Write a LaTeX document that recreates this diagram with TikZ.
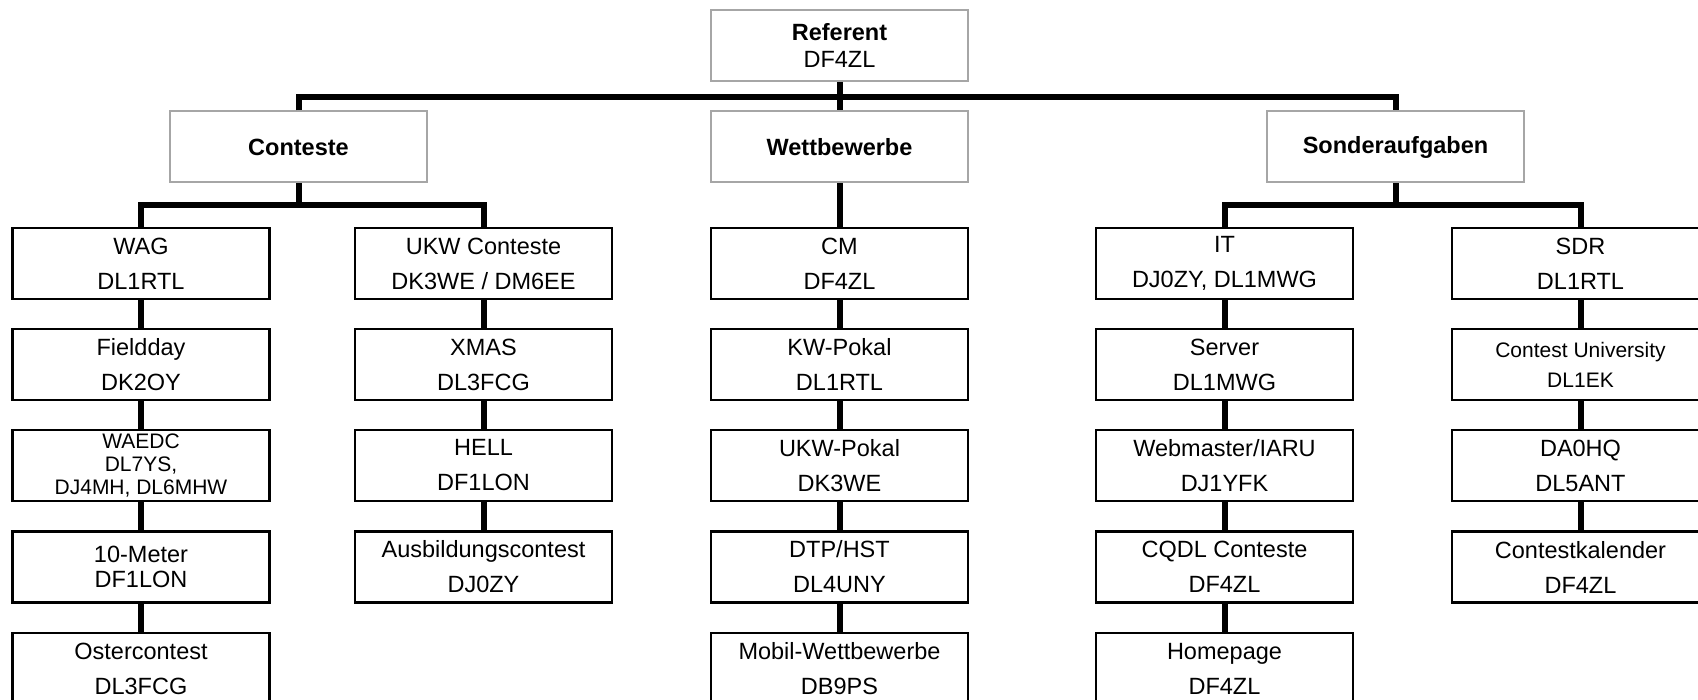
\documentclass[tikz,border=0pt]{standalone}
\usepackage{fontspec}
\setmainfont{Liberation Sans}
\definecolor{boxgray}{HTML}{A6A6A6}
\begin{document}
\begin{tikzpicture}[x=1pt,y=-1pt,
  box/.style={draw=black, line width=2.2pt, fill=white, minimum width=257pt, minimum height=71pt,
    inner sep=0pt, align=center, font=\fontsize{23.5}{35}\selectfont},
  tightbox/.style={box, font=\fontsize{23.5}{25}\selectfont},
  smallbox/.style={box, font=\fontsize{21}{23}\selectfont},
  cubox/.style={box, font=\fontsize{21}{30}\selectfont},
  headbox/.style={box, draw=boxgray, line width=2pt, font=\fontsize{23.5}{27}\selectfont\bfseries},
  refbox/.style={box, draw=boxgray, line width=2pt, font=\fontsize{23.5}{27}\selectfont},
  conn/.style={line width=6pt, line join=miter, draw=black}]
\useasboundingbox (0,0) rectangle (1698,700);
\clip (0,0) rectangle (1698,700);

% bar levels
\coordinate (topbar) at (0,97);
\coordinate (subbar) at (0,205);

% top levels
\node[refbox] (ref) at (839.5,45.5) {\textbf{Referent}\\DF4ZL};
\node[headbox] (con) at (298.5,147) {Conteste};
\node[headbox] (wet) at (839.5,147) {Wettbewerbe};
\node[headbox] (son) at (1395.5,147) {Sonderaufgaben};

% column A
\node[box] (a1) at (141,263.5) {WAG\\DL1RTL};
\node[box] (a2) at (141,364.5) {Fieldday\\DK2OY};
\node[smallbox] (a3) at (141,465.5) {WAEDC\\DL7YS,\\DJ4MH, DL6MHW};
\node[tightbox] (a4) at (141,567) {10-Meter\\DF1LON};
\node[box] (a5) at (141,668.5) {Ostercontest\\DL3FCG};

% column B
\node[box] (b1) at (483.5,263.5) {UKW Conteste\\DK3WE / DM6EE};
\node[box] (b2) at (483.5,364.5) {XMAS\\DL3FCG};
\node[box] (b3) at (483.5,465.5) {HELL\\DF1LON};
\node[box] (b4) at (483.5,567) {Ausbildungscontest\\DJ0ZY};

% column C
\node[box] (c1) at (839.5,263.5) {CM\\DF4ZL};
\node[box] (c2) at (839.5,364.5) {KW-Pokal\\DL1RTL};
\node[box] (c3) at (839.5,465.5) {UKW-Pokal\\DK3WE};
\node[box] (c4) at (839.5,567) {DTP/HST\\DL4UNY};
\node[box] (c5) at (839.5,668.5) {Mobil-Wettbewerbe\\DB9PS};

% column D
\node[box] (d1) at (1224.5,263.5) {IT\\DJ0ZY, DL1MWG};
\node[box] (d2) at (1224.5,364.5) {Server\\DL1MWG};
\node[box] (d3) at (1224.5,465.5) {Webmaster/IARU\\DJ1YFK};
\node[box] (d4) at (1224.5,567) {CQDL Conteste\\DF4ZL};
\node[box] (d5) at (1224.5,668.5) {Homepage\\DF4ZL};

% column E
\node[box] (e1) at (1580.5,263.5) {SDR\\DL1RTL};
\node[cubox] (e2) at (1580.5,364.5) {Contest University\\DL1EK};
\node[box] (e3) at (1580.5,465.5) {DA0HQ\\DL5ANT};
\node[box] (e4) at (1580.5,567) {Contestkalender\\DF4ZL};

% top connectors
\draw[conn] (ref.south) -- (wet.north);
\draw[conn] (con.north) -- (con.north |- topbar) -- (son.north |- topbar) -- (son.north);

% Conteste children
\draw[conn] (con.south) -- (con.south |- subbar);
\draw[conn] (a1.north) -- (a1.north |- subbar) -- (b1.north |- subbar) -- (b1.north);
% Wettbewerbe child
\draw[conn] (wet.south) -- (c1.north);
% Sonderaufgaben children
\draw[conn] (son.south) -- (son.south |- subbar);
\draw[conn] (d1.north) -- (d1.north |- subbar) -- (e1.north |- subbar) -- (e1.north);

% column chains
\draw[conn] (a1.south) -- (a2.north);
\draw[conn] (a2.south) -- (a3.north);
\draw[conn] (a3.south) -- (a4.north);
\draw[conn] (a4.south) -- (a5.north);
\draw[conn] (b1.south) -- (b2.north);
\draw[conn] (b2.south) -- (b3.north);
\draw[conn] (b3.south) -- (b4.north);
\draw[conn] (c1.south) -- (c2.north);
\draw[conn] (c2.south) -- (c3.north);
\draw[conn] (c3.south) -- (c4.north);
\draw[conn] (c4.south) -- (c5.north);
\draw[conn] (d1.south) -- (d2.north);
\draw[conn] (d2.south) -- (d3.north);
\draw[conn] (d3.south) -- (d4.north);
\draw[conn] (d4.south) -- (d5.north);
\draw[conn] (e1.south) -- (e2.north);
\draw[conn] (e2.south) -- (e3.north);
\draw[conn] (e3.south) -- (e4.north);
\end{tikzpicture}
\end{document}
